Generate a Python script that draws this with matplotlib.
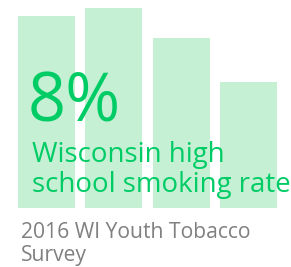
import matplotlib
matplotlib.use("Agg")
import matplotlib.pyplot as plt

# Data (bar heights, in % units; last bar = 8%)
years = ["2010", "2012", "2014", "2016"]
rates = [12.2, 12.7, 10.8, 8.0]
headline = "8%"
label_lines = ["Wisconsin high", "school smoking rate"]
source_lines = ["2016 WI Youth Tobacco", "Survey"]

W, H = 291, 267
fig = plt.figure(figsize=(W / 100, H / 100), dpi=100)
fig.patch.set_facecolor("white")

bottom_px = 207.7
ax = fig.add_axes([18 / W, 1 - bottom_px / H, 259 / W, bottom_px / H])
x = list(range(len(rates)))
ax.bar(x, rates, width=0.847, color="#C5F0D3", linewidth=0)
ax.set_xlim(-0.4235, 3.4235)
ax.set_ylim(0, bottom_px / 15.71)
ax.axis("off")

green = "#00CC66"
font = "Open Sans"


def fy(px):
    return 1 - px / H


fig.text(28 / W, fy(121), headline, color=green, fontsize=48, family=font,
         va="baseline", ha="left")
fig.text(32 / W, fy(162), label_lines[0], color=green, fontsize=19.9, family=font,
         va="baseline", ha="left")
fig.text(32 / W, fy(192), label_lines[1], color=green, fontsize=19.9, family=font,
         va="baseline", ha="left")
fig.text(21 / W, fy(238), source_lines[0], color="#808080", fontsize=15.2, family=font,
         va="baseline", ha="left")
fig.text(21 / W, fy(261), source_lines[1], color="#808080", fontsize=15.2, family=font,
         va="baseline", ha="left")

fig.savefig("out.png", dpi=100, facecolor="white")
